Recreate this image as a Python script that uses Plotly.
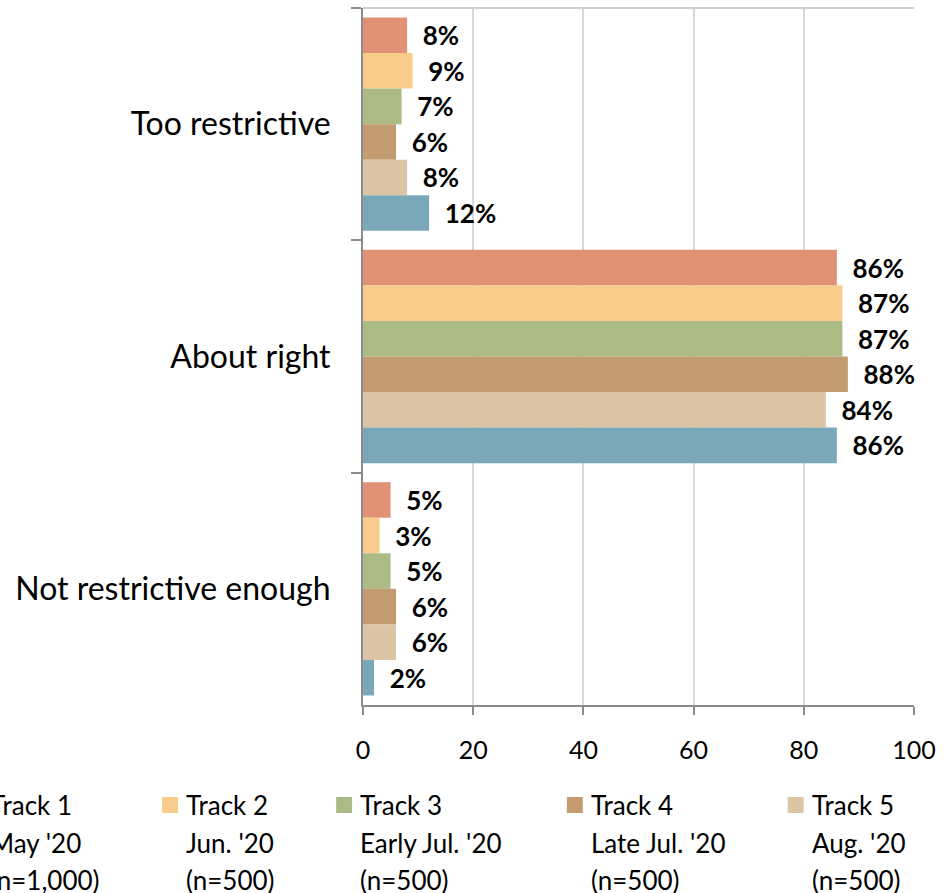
import plotly.graph_objects as go

# Survey responses by tracking wave
categories = ["Too restrictive", "About right", "Not restrictive enough"]
tracks = ["Track 1", "Track 2", "Track 3", "Track 4", "Track 5", "Track 6"]
periods = ["May '20", "Jun. '20", "Early Jul. '20", "Late Jul. '20", "Aug. '20", "Sep. '20"]
samples = ["(n=1,000)", "(n=500)", "(n=500)", "(n=500)", "(n=500)", "(n=500)"]

track1 = [8, 86, 5]
track2 = [9, 87, 3]
track3 = [7, 87, 5]
track4 = [6, 88, 6]
track5 = [8, 84, 6]
track6 = [12, 86, 2]
series = [track1, track2, track3, track4, track5, track6]

colors = ["#E09176", "#FACC8B", "#ACBB86", "#C29B70", "#DCC5A5", "#7AA8B9"]

FONT = "Lato"
W, H = 944, 893
PL, PR, PT, PB = 363, 917, 8, 705   # plot area edges in pixels


def xp(px):
    return (px - PL) / (PR - PL)


def yp(py):
    return (PB - py) / (PB - PT)


fig = go.Figure()
for name, vals, col in zip(tracks, series, colors):
    fig.add_trace(go.Bar(
        name=name, y=categories, x=vals, orientation="h",
        marker=dict(color=col, line=dict(width=0)),
        text=vals, texttemplate="\u00a0\u00a0%{x}%", textposition="outside",
        textfont=dict(family=FONT, size=26, color="black", weight="bold"),
        cliponaxis=False, showlegend=False,
    ))

# legend drawn below the plot, one column per wave (entries past the page edge are skipped)
legend_left = [-14, 183, 358, 590, 812, 1040]
row_y = [805, 843, 880]
shapes = []
annotations = []
for i, (tr, per, n) in enumerate(zip(tracks, periods, samples)):
    lx = legend_left[i]
    if lx >= W:
        continue
    shapes.append(dict(type="rect", xref="paper", yref="paper",
                       x0=xp(lx - 22), x1=xp(lx - 6), y0=yp(813), y1=yp(797),
                       fillcolor=colors[i], line=dict(width=0)))
    for txt, ry in zip([tr, per, n], row_y):
        annotations.append(dict(text=txt, xref="paper", yref="paper",
                                x=xp(lx), y=yp(ry), xanchor="left", yanchor="middle",
                                showarrow=False,
                                font=dict(family=FONT, size=26, color="black")))

# light border along the top of the plot area
shapes.append(dict(type="line", xref="paper", yref="paper", x0=0, x1=1, y0=1, y1=1,
                   line=dict(color="#D0D0D0", width=2)))

fig.update_layout(
    width=W, height=H,
    margin=dict(l=PL, r=W - PR, t=PT, b=H - PB),
    paper_bgcolor="white", plot_bgcolor="white",
    barmode="group", bargap=0.082, bargroupgap=0,
    font=dict(family=FONT, color="black"),
    shapes=shapes, annotations=annotations,
    xaxis=dict(range=[0, 100], dtick=20, tick0=0,
               showgrid=True, gridcolor="#D9D9D9", gridwidth=2,
               zeroline=False, showline=True, linecolor="#8C8C8C", linewidth=2,
               ticks="outside", ticklen=8, tickwidth=2, tickcolor="#8C8C8C",
               ticklabelstandoff=14,
               tickfont=dict(family=FONT, size=25, color="black")),
    yaxis=dict(type="category", autorange="reversed",
               showgrid=False, zeroline=False,
               showline=True, linecolor="#8C8C8C", linewidth=2,
               ticks="outside", tickson="boundaries", ticklen=10, tickwidth=2,
               tickcolor="#8C8C8C", ticklabelstandoff=24,
               tickfont=dict(family=FONT, size=32, color="black")),
)

fig.write_html("out.html")
